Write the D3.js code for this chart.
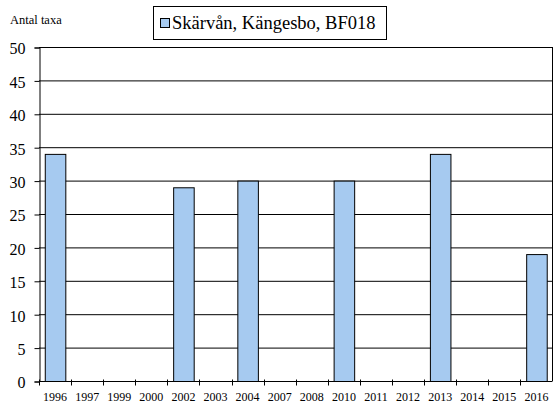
<!DOCTYPE html>
<html><head><meta charset="utf-8">
<script src="https://cdn.jsdelivr.net/npm/d3@7"></script>
<style>body{margin:0;background:#fff}svg{display:block}svg text{font-family:"Liberation Serif","Times New Roman",Times,serif !important}</style>
</head><body>
<svg id="c" width="553" height="405"></svg>
<script>
const categories = ["1996","1997","1999","2000","2002","2003","2004","2007","2008","2010","2011","2012","2013","2014","2015","2016"];
const values = [34,null,null,null,29,null,30,null,null,30,null,null,34,null,null,19];
const yTicks = [0,5,10,15,20,25,30,35,40,45,50];
const seriesName = "Skärvån, Kängesbo, BF018";
const yTitle = "Antal taxa";

const svg = d3.select("#c");
const L = 39, R = 552.5, T = 47, B = 381;
const x = d3.scaleBand().domain(categories).range([L, R]).paddingInner(0.36).paddingOuter(0.18);
const xb = d3.scaleBand().domain(categories).range([L, R]);
const y = d3.scaleLinear().domain([0, 50]).range([B, T]);

// gridlines
svg.append("g").selectAll("line").data(yTicks.filter(d => d > 0)).join("line")
  .attr("x1", L).attr("x2", R).attr("y1", d => y(d) + 0.5).attr("y2", d => y(d) + 0.5)
  .attr("stroke", "#000").attr("stroke-width", 1);
// right border
svg.append("line").attr("x1", R).attr("x2", R).attr("y1", T).attr("y2", B).attr("stroke", "#000");

// bars
svg.append("g").selectAll("rect").data(categories.map((c, i) => ({c, v: values[i]})).filter(d => d.v != null)).join("rect")
  .attr("x", d => x(d.c) + 0.5).attr("width", x.bandwidth())
  .attr("y", d => y(d.v) + 0.5).attr("height", d => y(0) - y(d.v))
  .attr("fill", "#a6caf0").attr("stroke", "#000").attr("stroke-width", 1);

// y axis
const ya = svg.append("g").attr("transform", `translate(${L + 0.5},0.5)`)
  .call(d3.axisLeft(y).tickValues(yTicks).tickSize(5).tickPadding(9));
ya.attr("font-family", null);
ya.select(".domain").attr("stroke", "#000");
ya.selectAll("text").attr("font-size", 16).attr("fill", "#000").attr("dy", "0.4em");

// x axis
const xa = svg.append("g").attr("transform", `translate(0,${B + 0.5})`);
xa.append("line").attr("x1", L).attr("x2", R).attr("stroke", "#000");
xa.selectAll("line.t").data(categories.map(c => xb(c)).concat([R])).join("line").attr("class", "t")
  .attr("x1", d => Math.round(d) + 0.5).attr("x2", d => Math.round(d) + 0.5).attr("y1", -2).attr("y2", 4)
  .attr("stroke", "#000");
xa.selectAll("text").data(categories).join("text")
  .attr("x", d => xb(d) + xb.bandwidth() / 2).attr("y", 19)
  .attr("text-anchor", "middle").attr("font-size", 12).attr("fill", "#000")
  .text(d => d);

// y title
svg.append("text").attr("x", 10).attr("y", 24).attr("font-size", 12.5).attr("fill", "#000").text(yTitle);

// legend
const lg = svg.append("g");
lg.append("rect").attr("x", 153.5).attr("y", 6.5).attr("width", 233).attr("height", 33).attr("fill", "#fff").attr("stroke", "#000");
lg.append("rect").attr("x", 160.5).attr("y", 18.5).attr("width", 9).attr("height", 9).attr("fill", "#a6caf0").attr("stroke", "#000");
lg.append("text").attr("x", 172).attr("y", 29).attr("font-size", 18.5).attr("fill", "#000").text(seriesName);
</script>
</body></html>
